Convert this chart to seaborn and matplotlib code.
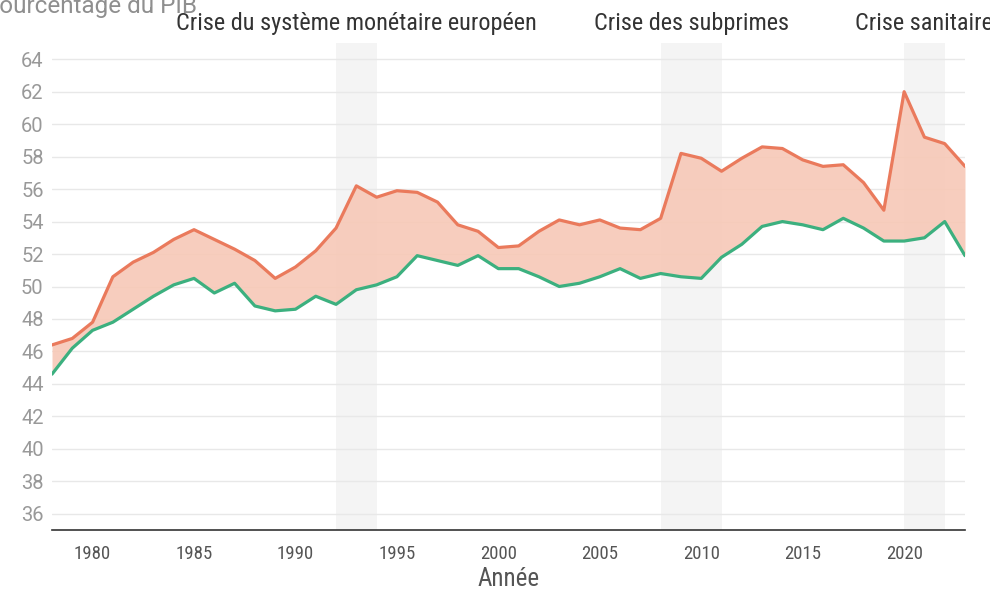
import matplotlib
matplotlib.use("Agg")
import matplotlib.pyplot as plt
import matplotlib.transforms as mtransforms
from matplotlib import font_manager
from matplotlib.font_manager import FontProperties
import seaborn as sns
import pandas as pd

years = list(range(1978, 2024))
depenses = [46.4, 46.8, 47.8, 50.6, 51.5, 52.1, 52.9, 53.5, 52.9, 52.3,
            51.6, 50.5, 51.2, 52.2, 53.6, 56.2, 55.5, 55.9, 55.8, 55.2,
            53.8, 53.4, 52.4, 52.5, 53.4, 54.1, 53.8, 54.1, 53.6, 53.5,
            54.2, 58.2, 57.9, 57.1, 57.9, 58.6, 58.5, 57.8, 57.4, 57.5,
            56.4, 54.7, 62.0, 59.2, 58.8, 57.4]
recettes = [44.6, 46.2, 47.3, 47.8, 48.6, 49.4, 50.1, 50.5, 49.6, 50.2,
            48.8, 48.5, 48.6, 49.4, 48.9, 49.8, 50.1, 50.6, 51.9, 51.6,
            51.3, 51.9, 51.1, 51.1, 50.6, 50.0, 50.2, 50.6, 51.1, 50.5,
            50.8, 50.6, 50.5, 51.8, 52.6, 53.7, 54.0, 53.8, 53.5, 54.2,
            53.6, 52.8, 52.8, 53.0, 54.0, 51.9]
crises = ["Crise du système monétaire européen", "Crise des subprimes", "Crise sanitaire"]
crise_debut = [1992, 2008, 2020]
crise_fin = [1994, 2011, 2022]
y_ticks = list(range(36, 65, 2))
x_ticks = list(range(1980, 2021, 5))

df = pd.DataFrame({"Année": years, "Dépenses": depenses, "Recettes": recettes})

sns.set_theme(style="white")
names = {f.name for f in font_manager.fontManager.ttflist}
cond_family = None
for cand in ["Roboto Condensed", "Liberation Sans Narrow", "Open Sans Condensed", "DejaVu Sans Condensed"]:
    if cand in names:
        cond_family = cand
        break
if cond_family is None:
    narrow = sorted(n for n in names if ("Condensed" in n or "Narrow" in n))
    cond_family = narrow[0] if narrow else "DejaVu Sans"
reg = "Roboto" if "Roboto" in names else "DejaVu Sans"
plt.rcParams["font.family"] = [reg, "DejaVu Sans"]


def condfp(size):
    return FontProperties(family=[cond_family, "DejaVu Sans"], stretch="condensed", size=size)


fig = plt.figure(figsize=(9.9, 5.93), dpi=100)
ax = fig.add_axes([52/990, 1-530/593, (965-52)/990, (530-43)/593])

for d, f in zip(crise_debut, crise_fin):
    ax.axvspan(d, f, color="#f4f4f4", zorder=0, lw=0)

for t in y_ticks:
    ax.axhline(t, color="#e8e8e8", lw=1, zorder=1)

ax.fill_between(df["Année"], df["Recettes"], df["Dépenses"], color="#f7c8b7", alpha=0.9, lw=0, zorder=2)
sns.lineplot(data=df, x="Année", y="Dépenses", ax=ax, color="#ea7a5c", lw=2.3, zorder=3)
sns.lineplot(data=df, x="Année", y="Recettes", ax=ax, color="#3cb07f", lw=2.3, zorder=3)

ax.set_xlim(1978, 2023)
ax.set_ylim(35, 65)
ax.set_yticks(y_ticks)
ax.set_xticks(x_ticks)
ax.set_yticklabels([str(t) for t in y_ticks], color="#999999", fontsize=14.5)
ax.set_xticklabels([str(t) for t in x_ticks], color="#555555", fontproperties=condfp(13.5))
ax.tick_params(axis="y", length=0, pad=6)
ax.tick_params(axis="x", length=7, width=1, color="#333333", pad=4, direction="out")
for s in ["top", "right", "left"]:
    ax.spines[s].set_visible(False)
ax.spines["bottom"].set_color("#333333")
ax.spines["bottom"].set_linewidth(1.2)
ax.set_ylabel("")
ax.set_xlabel("Année", color="#555555", fontproperties=condfp(18), labelpad=3)

blend = mtransforms.blended_transform_factory(ax.transData, fig.transFigure)
for name, d, f in zip(crises, crise_debut, crise_fin):
    ax.text((d + f) / 2, 1 - 30/593, name, transform=blend, ha="center", va="baseline",
            fontproperties=condfp(17.5), color="#333333", clip_on=False)

fig.text(-16/990, 1 - 13/593, "Pourcentage du PIB", color="#8f8f8f", fontsize=17.5, ha="left", va="baseline")

fig.savefig("out.png", dpi=100)
